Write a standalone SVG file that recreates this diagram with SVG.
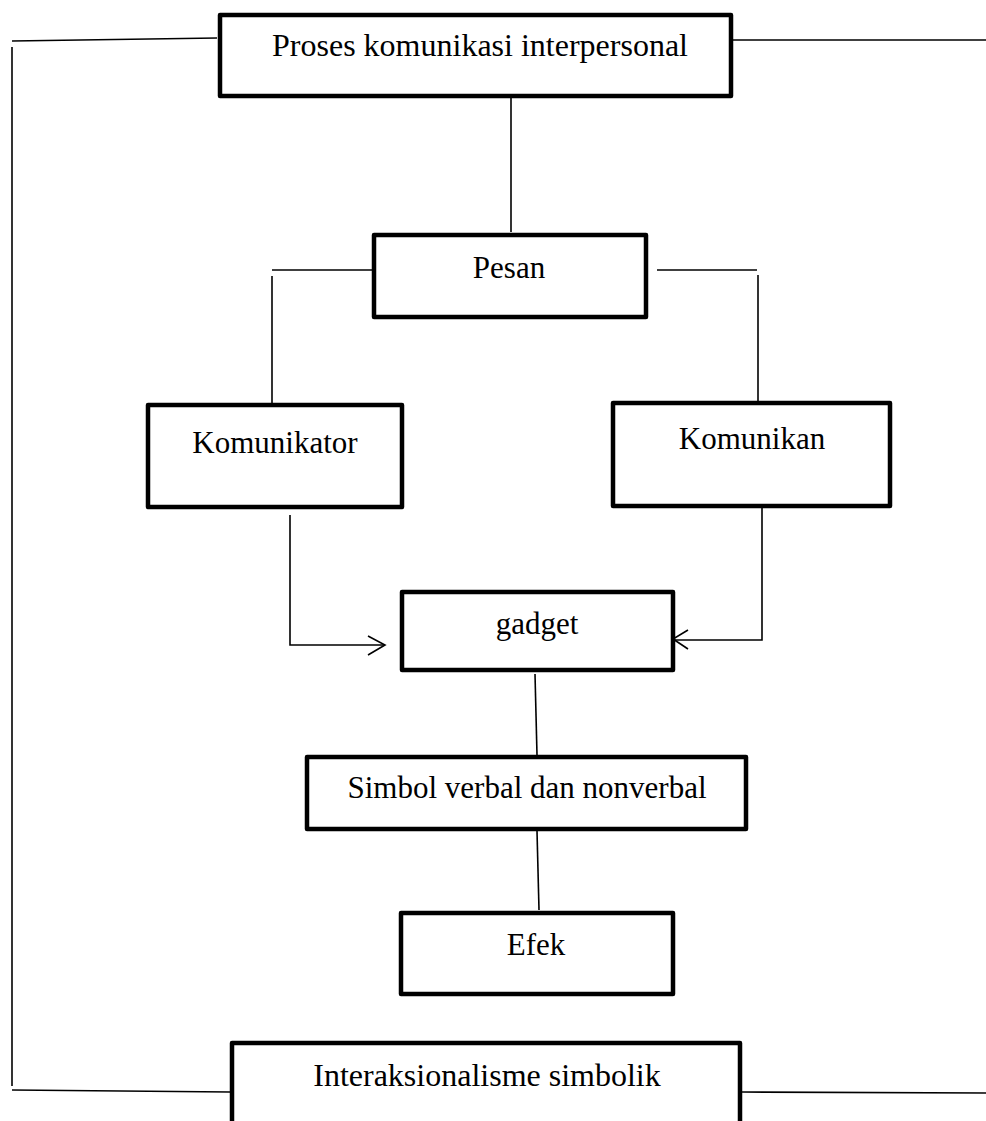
<svg xmlns="http://www.w3.org/2000/svg" width="986" height="1121" viewBox="0 0 986 1121">
<style>
.box{fill:#fff;stroke:#000;stroke-width:4.5;stroke-linejoin:round}
.t{font-family:"Liberation Serif","Times New Roman",serif;font-size:31px;fill:#000;text-anchor:middle}
.c{fill:none;stroke:#000;stroke-width:1.6}
</style>
<rect width="986" height="1121" fill="#fff"/>
<g id="connectors">
<path class="c" d="M12,41 L217,38"/>
<path class="c" d="M12,47 V1086"/>
<path class="c" d="M733,40 H986"/>
<path class="c" d="M12,1090 L230,1092"/>
<path class="c" d="M742,1092 L986,1093"/>
<path class="c" d="M511,98 V232"/>
<path class="c" d="M272,270 H372"/>
<path class="c" d="M272,276 V403"/>
<path class="c" d="M657,270 H757"/>
<path class="c" d="M758,275 V401"/>
<path class="c" d="M290,515 V645 H385"/>
<path class="c" d="M368,636 L385,645 L368,655"/>
<path class="c" d="M762,508 V640 H673"/>
<path class="c" d="M688,630 L673,639 L688,649"/>
<path class="c" d="M535,674 L537,755"/>
<path class="c" d="M537,831 L539,910"/>
</g>
<g id="n-proses"><rect class="box" x="220" y="15" width="511" height="81"/><text class="t" x="480" y="56" style="font-size:32px">Proses komunikasi interpersonal</text></g>
<g id="n-pesan"><rect class="box" x="374" y="235" width="272" height="82"/><text class="t" x="509" y="278">Pesan</text></g>
<g id="n-komunikator"><rect class="box" x="148" y="405" width="254" height="102"/><text class="t" x="275" y="453">Komunikator</text></g>
<g id="n-komunikan"><rect class="box" x="613" y="403" width="277" height="103"/><text class="t" x="752" y="449">Komunikan</text></g>
<g id="n-gadget"><rect class="box" x="402" y="592" width="271" height="78"/><text class="t" x="537" y="634">gadget</text></g>
<g id="n-simbol"><rect class="box" x="307" y="757" width="439" height="72"/><text class="t" x="527" y="798">Simbol verbal dan nonverbal</text></g>
<g id="n-efek"><rect class="box" x="401" y="913" width="272" height="81"/><text class="t" x="536" y="955">Efek</text></g>
<g id="n-interaksionalisme"><rect class="box" x="232" y="1043" width="508" height="90"/><text class="t" x="487" y="1086" style="font-size:32px">Interaksionalisme simbolik</text></g>
</svg>
